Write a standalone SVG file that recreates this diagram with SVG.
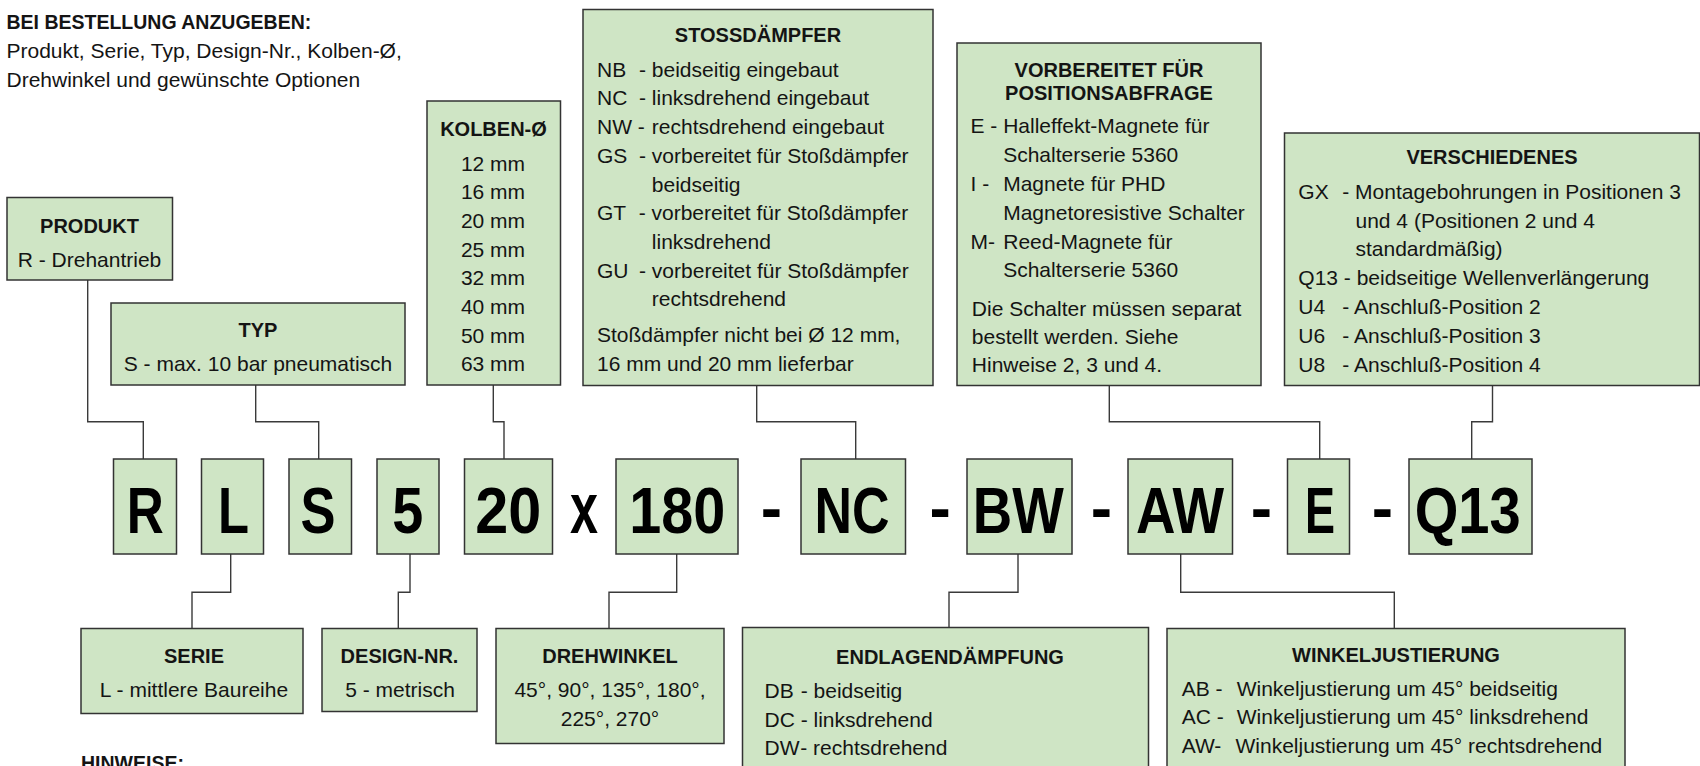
<svg xmlns="http://www.w3.org/2000/svg" width="1700" height="766" viewBox="0 0 1700 766">
<style>
.box{fill:#cfe5c5;stroke:#333;stroke-width:1.5}
.conn{fill:none;stroke:#3a3a3a;stroke-width:1.4}
text{font-family:"Liberation Sans",Arial,sans-serif;font-size:21px;fill:#141414}
.b{font-weight:bold;font-size:19.5px}
.h{font-weight:bold;font-size:20px;text-anchor:middle}
.c{text-anchor:middle}
.big{font-weight:bold;font-size:64px;text-anchor:middle;fill:#000}
</style>
<rect width="1700" height="766" fill="#fff"/>
<g id="intro">
<text class="b" x="6.5" y="28.5">BEI BESTELLUNG ANZUGEBEN:</text>
<text x="6.5" y="57.7">Produkt, Serie, Typ, Design-Nr., Kolben-Ø,</text>
<text x="6.5" y="86.7">Drehwinkel und gewünschte Optionen</text>
</g>
<g id="connectors">
<polyline class="conn" points="87.7,280 87.7,421.7 143.3,421.7 143.3,459"/>
<polyline class="conn" points="255.7,385 255.7,421.7 318.7,421.7 318.7,459"/>
<polyline class="conn" points="493.3,385 493.3,421.7 504,421.7 504,459"/>
<polyline class="conn" points="756.7,385.5 756.7,421.7 855.7,421.7 855.7,459"/>
<polyline class="conn" points="1109.3,385.5 1109.3,421.7 1319.7,421.7 1319.7,459"/>
<polyline class="conn" points="1492.5,385.5 1492.5,421.7 1471.7,421.7 1471.7,459"/>
<polyline class="conn" points="230.7,554 230.7,592.3 192,592.3 192,628.5"/>
<polyline class="conn" points="410,554 410,592.3 398.3,592.3 398.3,628.5"/>
<polyline class="conn" points="676.7,554 676.7,592.3 609,592.3 609,628.5"/>
<polyline class="conn" points="1018,554 1018,592.3 949,592.3 949,627.5"/>
<polyline class="conn" points="1180.7,554 1180.7,592.3 1394.3,592.3 1394.3,628.5"/>
</g>
<g id="produkt">
<rect class="box" x="7" y="197.5" width="165.5" height="82.5"/>
<text class="h" x="89.5" y="232.7">PRODUKT</text>
<text class="c" x="89.5" y="266.7">R - Drehantrieb</text>
</g>
<g id="typ">
<rect class="box" x="111" y="303" width="294" height="82"/>
<text class="h" x="258" y="336.7">TYP</text>
<text class="c" x="258" y="370.7">S - max. 10 bar pneumatisch</text>
</g>
<g id="kolben">
<rect class="box" x="427" y="101" width="133.5" height="284"/>
<text class="h" x="493.5" y="136">KOLBEN-Ø</text>
<text class="c" x="493" y="170.7">12 mm</text>
<text class="c" x="493" y="199.4">16 mm</text>
<text class="c" x="493" y="228">20 mm</text>
<text class="c" x="493" y="256.7">25 mm</text>
<text class="c" x="493" y="285.3">32 mm</text>
<text class="c" x="493" y="314">40 mm</text>
<text class="c" x="493" y="342.7">50 mm</text>
<text class="c" x="493" y="371.3">63 mm</text>
</g>
<g id="stossdaempfer">
<rect class="box" x="583" y="9.5" width="350" height="376"/>
<text class="h" x="758" y="41.7">STOSSDÄMPFER</text>
<text x="597" y="76.7">NB <tspan dx="7">- beidseitig eingebaut</tspan></text>
<text x="597" y="105.4">NC <tspan dx="5.8">- linksdrehend eingebaut</tspan></text>
<text x="597" y="134.1">NW - <tspan dx="1.2">rechtsdrehend eingebaut</tspan></text>
<text x="597" y="162.8">GS <tspan dx="5.8">- vorbereitet für Stoßdämpfer</tspan></text>
<text x="651.8" y="191.5">beidseitig</text>
<text x="597" y="220.2">GT <tspan dx="7">- vorbereitet für Stoßdämpfer</tspan></text>
<text x="651.8" y="248.9">linksdrehend</text>
<text x="597" y="277.6">GU <tspan dx="4.7">- vorbereitet für Stoßdämpfer</tspan></text>
<text x="651.8" y="306.3">rechtsdrehend</text>
<text x="597" y="342">Stoßdämpfer nicht bei Ø 12 mm,</text>
<text x="597" y="370.7">16 mm und 20 mm lieferbar</text>
</g>
<g id="positionsabfrage">
<rect class="box" x="957" y="43" width="304" height="342.5"/>
<text class="h" x="1109" y="76.5">VORBEREITET FÜR</text>
<text class="h" x="1109" y="100">POSITIONSABFRAGE</text>
<text x="970.5" y="133.3">E - Halleffekt-Magnete für</text>
<text x="1003.2" y="162.2">Schalterserie 5360</text>
<text x="970.5" y="191">I - <tspan dx="8.2">Magnete für PHD</tspan></text>
<text x="1003.2" y="219.8">Magnetoresistive Schalter</text>
<text x="970.5" y="248.6">M- <tspan dx="2.4">Reed-Magnete für</tspan></text>
<text x="1003.2" y="277.4">Schalterserie 5360</text>
<text x="971.8" y="316">Die Schalter müssen separat</text>
<text x="971.8" y="344">bestellt werden. Siehe</text>
<text x="971.8" y="371.7">Hinweise 2, 3 und 4.</text>
</g>
<g id="verschiedenes">
<rect class="box" x="1284.5" y="133" width="415" height="252.5"/>
<text class="h" x="1492" y="164.3">VERSCHIEDENES</text>
<text x="1298.3" y="198.7">GX <tspan dx="7.8">- Montagebohrungen in Positionen 3</tspan></text>
<text x="1355.5" y="227.5">und 4 (Positionen 2 und 4</text>
<text x="1355.5" y="256.3">standardmäßig)</text>
<text x="1298.3" y="285.1">Q13 - beidseitige Wellenverlängerung</text>
<text x="1298.3" y="313.9">U4 <tspan dx="11.3">- Anschluß-Position 2</tspan></text>
<text x="1298.3" y="342.7">U6 <tspan dx="11.3">- Anschluß-Position 3</tspan></text>
<text x="1298.3" y="371.5">U8 <tspan dx="11.3">- Anschluß-Position 4</tspan></text>
</g>
<g id="code-R"><rect class="box" x="113.5" y="459" width="63" height="95"/><text class="big" x="145.3" y="532.7" textLength="37" lengthAdjust="spacingAndGlyphs">R</text></g>
<g id="code-L"><rect class="box" x="201.5" y="459" width="62" height="95"/><text class="big" x="233.5" y="532.7" textLength="31" lengthAdjust="spacingAndGlyphs">L</text></g>
<g id="code-S"><rect class="box" x="289" y="459" width="62.5" height="95"/><text class="big" x="318" y="532.7" textLength="35" lengthAdjust="spacingAndGlyphs">S</text></g>
<g id="code-5"><rect class="box" x="377" y="459" width="62" height="95"/><text class="big" x="407.8" y="532.7" textLength="31" lengthAdjust="spacingAndGlyphs">5</text></g>
<g id="code-20"><rect class="box" x="464.5" y="459" width="88" height="95"/><text class="big" x="508.3" y="532.7" textLength="66" lengthAdjust="spacingAndGlyphs">20</text></g>
<g id="code-180"><rect class="box" x="616" y="459" width="122" height="95"/><text class="big" x="677.3" y="532.7" textLength="96" lengthAdjust="spacingAndGlyphs">180</text></g>
<g id="code-NC"><rect class="box" x="801" y="459" width="104.5" height="95"/><text class="big" x="852" y="532.7" textLength="75" lengthAdjust="spacingAndGlyphs">NC</text></g>
<g id="code-BW"><rect class="box" x="967" y="459" width="105" height="95"/><text class="big" x="1018.2" y="532.7" textLength="91" lengthAdjust="spacingAndGlyphs">BW</text></g>
<g id="code-AW"><rect class="box" x="1128" y="459" width="104.5" height="95"/><text class="big" x="1180" y="532.7" textLength="88" lengthAdjust="spacingAndGlyphs">AW</text></g>
<g id="code-E"><rect class="box" x="1287.5" y="459" width="62" height="95"/><text class="big" x="1320" y="532.7" textLength="30" lengthAdjust="spacingAndGlyphs">E</text></g>
<g id="code-Q13"><rect class="box" x="1409" y="459" width="123" height="95"/><text class="big" x="1467.7" y="532.7" textLength="106" lengthAdjust="spacingAndGlyphs">Q13</text></g>
<g id="separators">
<text class="big" x="584" y="532.7" style="font-size:72px" textLength="28" lengthAdjust="spacingAndGlyphs">x</text>
<text class="big" x="771.5" y="529.5">-</text>
<text class="big" x="940.2" y="529.5">-</text>
<text class="big" x="1101.5" y="529.5">-</text>
<text class="big" x="1261.5" y="529.5">-</text>
<text class="big" x="1382.5" y="529.5">-</text>
</g>
<g id="serie">
<rect class="box" x="81" y="628.5" width="222" height="85"/>
<text class="h" x="194" y="663.3">SERIE</text>
<text class="c" x="194" y="697">L - mittlere Baureihe</text>
</g>
<g id="design-nr">
<rect class="box" x="322" y="628.5" width="155" height="83"/>
<text class="h" x="399.5" y="663.3">DESIGN-NR.</text>
<text class="c" x="400" y="697">5 - metrisch</text>
</g>
<g id="drehwinkel">
<rect class="box" x="496" y="628.5" width="228" height="115"/>
<text class="h" x="610" y="663.3">DREHWINKEL</text>
<text class="c" x="610" y="696.7">45°, 90°, 135°, 180°,</text>
<text class="c" x="610" y="725.5">225°, 270°</text>
</g>
<g id="endlagendaempfung">
<rect class="box" x="742.5" y="627.5" width="406" height="160"/>
<text class="h" x="950" y="664">ENDLAGENDÄMPFUNG</text>
<text x="764.5" y="698.3">DB <tspan dx="1.2">- beidseitig</tspan></text>
<text x="764.5" y="726.7">DC - linksdrehend</text>
<text x="764.5" y="755">DW<tspan dx="1.2">- rechtsdrehend</tspan></text>
</g>
<g id="winkeljustierung">
<rect class="box" x="1167" y="628.5" width="458" height="160"/>
<text class="h" x="1396" y="661.7">WINKELJUSTIERUNG</text>
<text x="1181.7" y="696">AB - <tspan dx="8.3">Winkeljustierung um 45° beidseitig</tspan></text>
<text x="1181.7" y="724.3">AC - <tspan dx="7.2">Winkeljustierung um 45° linksdrehend</tspan></text>
<text x="1181.7" y="752.5">AW- <tspan dx="8.3">Winkeljustierung um 45° rechtsdrehend</tspan></text>
</g>
<g id="hinweise">
<text class="b" x="81" y="769.5">HINWEISE:</text>
</g>
</svg>
